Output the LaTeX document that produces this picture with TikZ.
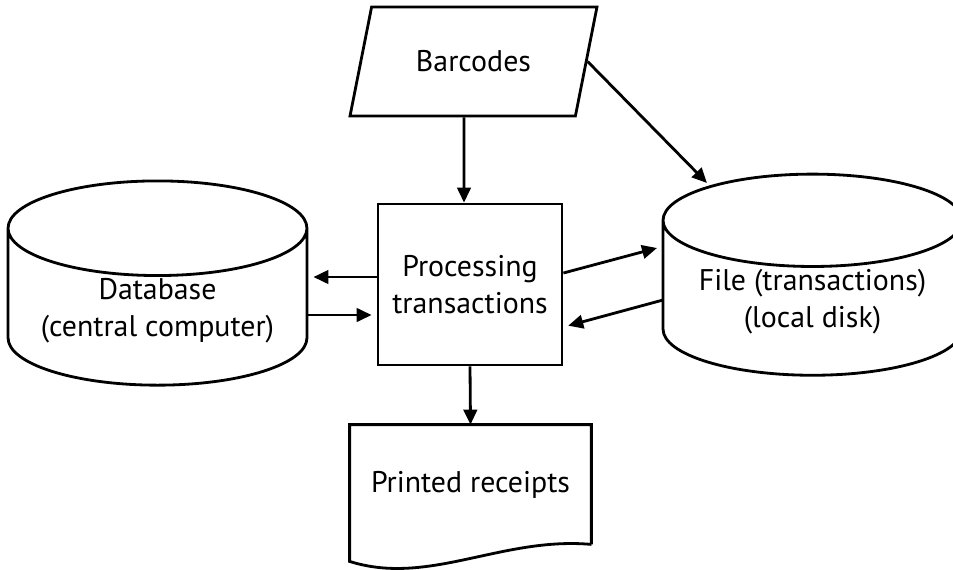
\documentclass[tikz,border=0pt]{standalone}
\usepackage{fontspec}
\setmainfont{PT Sans}
\usetikzlibrary{shapes.geometric,arrows.meta,calc}
\tikzset{every node/.style={font=\fontsize{17}{21}\selectfont,align=center}}
\tikzset{inbox/.style = {trapezium,draw,trapezium left angle=57,trapezium right angle=123,trapezium stretches body,minimum width=4.94cm,minimum height=2.18cm}}
\tikzset{procbox/.style = {rectangle,draw,minimum width=3.68cm,minimum height=3.22cm}}
\tikzset{store/.style = {cylinder,draw,shape border rotate=90,aspect=0.4,inner sep=1pt,minimum width=5.98cm,minimum height=3.76cm}}
\tikzset{docbox/.style = {minimum width=4.78cm,minimum height=2.34cm}}

\begin{document}
\begin{tikzpicture}[x=0.02cm,y=-0.02cm,line width=1.6pt,>={Triangle[length=0.3cm,width=0.27cm]}]
  \useasboundingbox (0,0) rectangle (953,569);
      \node[inbox] (bar) at (473.5,61.5) {Barcodes};
      \node[procbox] (proc) at (470,284.5) {Processing\\transactions};
      \node[store] (db) at (157.5,311) {Database\\(central computer)};
      \node[store] (file) at (812.5,302) {File (transactions)\\(local disk)};
      \node[docbox] (rcpt) at (470.5,484.5) {Printed receipts};

      \draw (rcpt.south east) -- (rcpt.north east) -- (rcpt.north west) -- ($(rcpt.south west)+(0,17)$)
        .. controls ($(rcpt.south west)+(79,42)$) and ($(rcpt.south east)+(-90,-8)$) .. (rcpt.south east);

      \coordinate (p1) at ([yshift=0.15cm]proc.west);
      \coordinate (p2) at ([yshift=-0.61cm]proc.west);
      \coordinate (p3) at ([yshift=0.23cm]proc.east);
      \coordinate (p4) at ([yshift=-0.85cm]proc.east);
      \coordinate (f1) at (657,248);
      \coordinate (f2) at (663,300);
      \coordinate (f3) at (707,183);

 \draw[->] ($(bar.south)+(-9.5,0)$) -- ($(proc.north)+(-6,0)$);
 \draw[->] (bar.east) -- (f3);
 \draw[->] (proc.south) -- (rcpt.north);
 \draw[->,shorten >=0.1cm] (p1) -- (db.east |- p1);
 \draw[->,shorten >=0.1cm] (db.east |- p2) -- (p2);
 \draw[->] (p3) -- (f1);
 \draw[->,shorten >=0.1cm] (f2) -- (p4);

\end{tikzpicture}
\end{document}
